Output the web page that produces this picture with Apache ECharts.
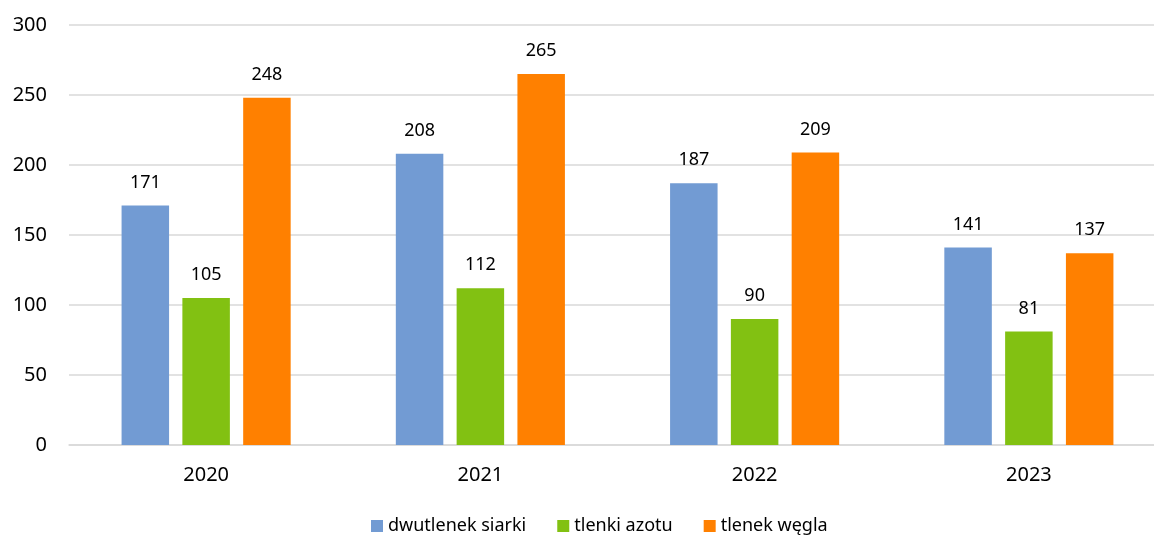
<!DOCTYPE html>
<html><head><meta charset="utf-8">
<script src="https://cdn.jsdelivr.net/npm/echarts@6/dist/echarts.min.js"></script>
<style>html,body{margin:0;padding:0;background:#fff}#c{width:1154px;height:537px}</style>
</head><body><div id="c"></div>
<script>
const categories = ['2020', '2021', '2022', '2023'];
const so2 = [171, 208, 187, 141];
const nox = [105, 112, 90, 81];
const co = [248, 265, 209, 137];
const seriesNames = ['dwutlenek siarki', 'tlenki azotu', 'tlenek węgla'];
const colors = ['#729BD3', '#82C112', '#FF8000'];
const font = 'Noto Sans';
const chart = echarts.init(document.getElementById('c'));
function s(name, data, color) {
  return {
    name, type: 'bar', data, barWidth: 47.5, barGap: '28%',
    itemStyle: { color },
    label: { show: true, position: 'top', distance: 14, color: '#000', fontFamily: font, fontSize: 18 }
  };
}
chart.setOption({
  animation: false,
  grid: { left: 69, top: 25, width: 1097, height: 420, outerBoundsMode: 'none', containLabel: false },
  legend: {
    top: 512, left: 366, itemWidth: 12, itemHeight: 12, itemGap: 31,
    icon: 'rect', textStyle: { fontFamily: font, fontSize: 18, color: '#000' },
    data: seriesNames
  },
  xAxis: {
    type: 'category', data: categories,
    axisLine: { lineStyle: { color: '#D9D9D9', width: 1.5 } },
    axisTick: { show: false },
    axisLabel: { color: '#000', fontFamily: font, fontSize: 20, margin: 20 }
  },
  yAxis: {
    type: 'value', min: 0, max: 300, interval: 50,
    axisLine: { show: false }, axisTick: { show: false },
    splitLine: { lineStyle: { color: '#D9D9D9', width: 1.5 } },
    axisLabel: { color: '#000', fontFamily: font, fontSize: 20, margin: 22 }
  },
  series: [s(seriesNames[0], so2, colors[0]), s(seriesNames[1], nox, colors[1]), s(seriesNames[2], co, colors[2])]
});
</script></body></html>
